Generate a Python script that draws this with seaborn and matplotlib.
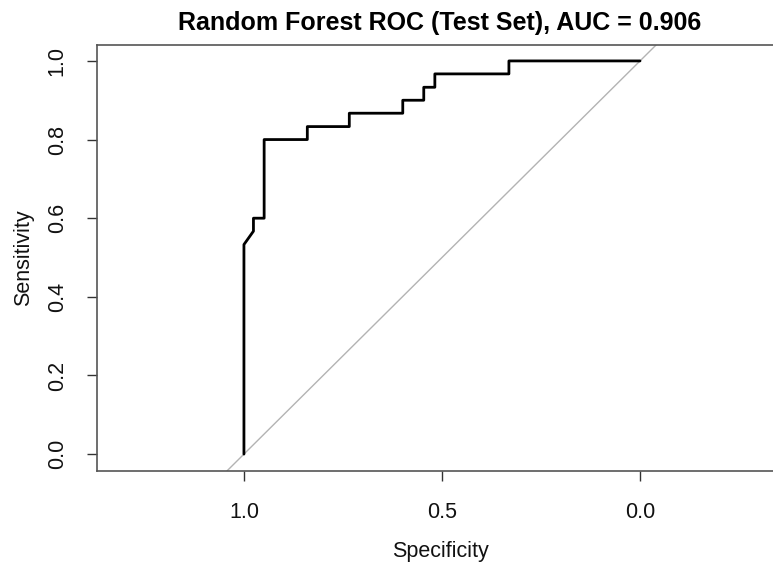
import numpy as np
import pandas as pd
import matplotlib
matplotlib.use("Agg")
import matplotlib.pyplot as plt
import seaborn as sns

specificity = [1.0, 1.0, 0.976, 0.976, 0.949, 0.949, 0.840, 0.840, 0.734, 0.734,
               0.599, 0.599, 0.546, 0.546, 0.518, 0.518, 0.331, 0.331, 0.0]
sensitivity = [0.0, 0.533, 0.567, 0.6, 0.6, 0.8, 0.8, 0.833, 0.833, 0.867,
               0.867, 0.9, 0.9, 0.933, 0.933, 0.967, 0.967, 1.0, 1.0]
x_ticks = [1.0, 0.5, 0.0]
x_tick_labels = ["1.0", "0.5", "0.0"]
y_ticks = [0.0, 0.2, 0.4, 0.6, 0.8, 1.0]
y_tick_labels = ["0.0", "0.2", "0.4", "0.6", "0.8", "1.0"]
title = "Random Forest ROC (Test Set), AUC = 0.906"

sns.set_theme(style="white")
plt.rcParams['font.family'] = ['Liberation Sans', 'DejaVu Sans']

df = pd.DataFrame({"Specificity": specificity, "Sensitivity": sensitivity})

W, H = 773, 563
fig = plt.figure(figsize=(W / 100, H / 100), dpi=100)
ax = fig.add_axes([97 / W, 1 - 471 / H, (783 - 97) / W, (471 - 45) / H])

ax.axline((1, 0), (0, 1), color="#b3b3b3", lw=1.0, zorder=1)
sns.lineplot(data=df, x="Specificity", y="Sensitivity", sort=False, estimator=None,
             color="black", lw=2.0, ax=ax, zorder=3)

ax.set_xlim(1.371, -0.361)
ax.set_ylim(-0.043, 1.0405)
ax.set_xticks(x_ticks)
ax.set_xticklabels(x_tick_labels)
ax.set_yticks(y_ticks)
ax.set_yticklabels(y_tick_labels, rotation=90, va="center")

for s in ["top", "bottom", "left", "right"]:
    ax.spines[s].set_color("#555555")
    ax.spines[s].set_linewidth(1.2)

ax.tick_params(axis="both", which="major", direction="out", length=7, width=1.0,
               color="#333333", labelsize=15.5, labelcolor="#111111", left=True, bottom=True)
ax.tick_params(axis="x", pad=15)
ax.tick_params(axis="y", pad=14)

ax.set_xlabel("Specificity", fontsize=15.5, labelpad=13, color="#111111")
ax.set_ylabel("Sensitivity", fontsize=15.5, labelpad=9, color="#111111")
ax.set_title(title, fontsize=18, fontweight="bold", pad=11, color="black")

fig.savefig("out.png", dpi=100)
